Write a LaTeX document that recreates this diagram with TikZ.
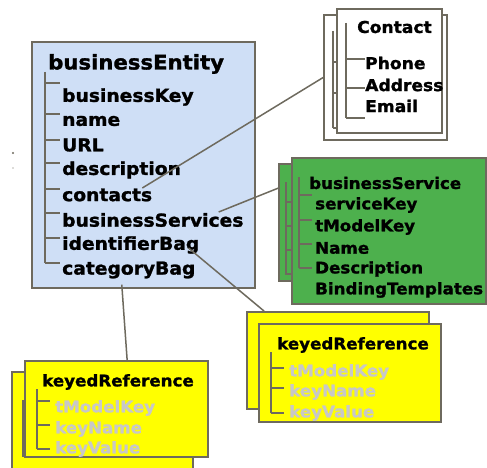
\documentclass[tikz,border=0pt]{standalone}
\usepackage{fontspec}
\setmainfont{DejaVu Sans}
\newfontfamily\vb{DejaVu Sans Bold}[FakeStretch=1.05, FakeBold=1.4]
\usetikzlibrary{calc,fit}
\definecolor{edgec}{HTML}{6E6A5E}
\definecolor{bluefill}{HTML}{CFDFF6}
\definecolor{greenfill}{HTML}{4DB04D}
\definecolor{yellowfill}{HTML}{FFFF00}
\definecolor{greytext}{HTML}{C8C8C8}
\begin{document}
\begin{tikzpicture}[x=1pt,y=-1pt,
  box/.style={draw=edgec, line width=1.7pt, inner sep=0pt},
  tree/.style={draw=edgec, line width=1.4pt},
  conn/.style={draw=edgec, line width=1.5pt},
  lbl/.style={anchor=west, inner sep=0pt},
  bigtitle/.style={lbl, font=\fontsize{20.2}{20.2}\vb},
  bitem/.style={lbl, font=\fontsize{17.8}{17.8}\vb},
  citem/.style={lbl, font=\fontsize{16.3}{16.3}\vb},
  gitem/.style={lbl, font=\fontsize{15.9}{15.9}\vb},
  yitem/.style={lbl, font=\fontsize{15.9}{15.9}\vb},
  ygrey/.style={yitem, text=greytext}]
\useasboundingbox (0,0) rectangle (487,468);
\fill[white] (0,0) rectangle (487,468);
% stray marks
\fill[edgec] (13,153) circle (1.2pt);
\fill[edgec] (13,168) circle (0.7pt);
% ---- businessEntity
\node[box, fill=bluefill, fit={(32,42)(255,288)}] (entity) {};
\path[tree] (45,72) -- (45,263);
\foreach \y in {83,114,140,163,189,213,238,263} \path[tree] (45,\y) -- (60,\y);
\node[bigtitle] (title) at (48,64) {businessEntity};
\node[bitem] (bkey) at (62,97) {businessKey};
\node[bitem] (name) at (62,121) {name};
\node[bitem] (url) at (62,145) {URL};
\node[bitem] (desc) at (62,170) {description};
\node[bitem] (contacts) at (62,195) {contacts};
\node[bitem] (bservices) at (62,220) {businessServices};
\node[bitem] (idbag) at (62,245) {identifierBag};
\node[bitem] (catbag) at (62,270) {categoryBag};
% ---- Contact
\node[box, fill=white, fit={(324,15)(447,140)}] (cback) {};
\path[tree] (333,31) -- (333,128);
\foreach \y in {62,93,128} \path[tree] (333,\y) -- (337,\y);
\node[box, fill=white, fit={(337,9)(442,133)}] (cfront) {};
\path[tree] (346,23) -- (346,118);
\foreach \y in {59,88,118} \path[tree] (346,\y) -- (365,\y);
\node[citem] (contact) at (357,27) {Contact};
\node[citem] (phone) at (365,63) {Phone};
\node[citem] (address) at (365,85) {Address};
\node[citem] (email) at (365,106) {Email};
% ---- businessService
\node[box, fill=greenfill, fit={(279,164)(300,281)}] (gback) {};
\path[tree] (286,182) -- (286,275);
\foreach \y in {202,226,250,274} \path[tree] (286,\y) -- (292,\y);
\node[box, fill=greenfill, fit={(292,158)(486,304)}] (gfront) {};
\path[tree] (299,177) -- (299,268);
\foreach \y in {195,220,244,268} \path[tree] (299,\y) -- (312,\y);
\node[gitem] (bservice) at (309,183) {businessService};
\node[gitem] (skey) at (315,205) {serviceKey};
\node[gitem] (tmk) at (315,227) {tModelKey};
\node[gitem] (gname) at (315,248) {Name};
\node[gitem] (gdesc) at (315,269) {Description};
\node[gitem] (binding) at (315,290) {BindingTemplates};
% ---- keyedReference (right)
\node[box, fill=yellowfill, fit={(247,312)(429,409)}] (yrback) {};
\node[box, fill=yellowfill, fit={(259,324)(441,422)}] (yrfront) {};
\path[tree] (271,352) -- (271,413);
\foreach \y in {368,388,413} \path[tree] (271,\y) -- (284,\y);
\node[yitem] (krtitle) at (277,345) {keyedReference};
\node[ygrey] (krtmk) at (289,372) {tModelKey};
\node[ygrey] (krname) at (289,392) {keyName};
\node[ygrey] (krvalue) at (289,413) {keyValue};
% ---- keyedReference (left)
\node[box, fill=yellowfill, fit={(12,372)(193,472)}] (ylback) {};
\path[tree] (23,400) -- (23,457);
\node[box, fill=yellowfill, fit={(25,361)(208,457)}] (ylfront) {};
\path[tree] (37,389) -- (37,449);
\foreach \y in {401,425,449} \path[tree] (37,\y) -- (50,\y);
\node[yitem] (kltitle) at (42,382) {keyedReference};
\node[ygrey] (kltmk) at (55,408) {tModelKey};
\node[ygrey] (klname) at (55,429) {keyName};
\node[ygrey] (klvalue) at (55,449) {keyValue};
% ---- connectors
\draw[conn] ($(contacts.east)+(-10,-7)$) -- (cback.west);
\draw[conn] ($(bservices.east)+(-25,-8)$) -- ($(gback.north west)+(0,25)$);
\draw[conn] ($(idbag.east)+(-11,3)$) -- ($(yrback.north west)+(18,0)$);
\draw[conn] ($(catbag.south)+(-7,6)$) -- ($(ylfront.north west)+(103,0)$);
\end{tikzpicture}
\end{document}
